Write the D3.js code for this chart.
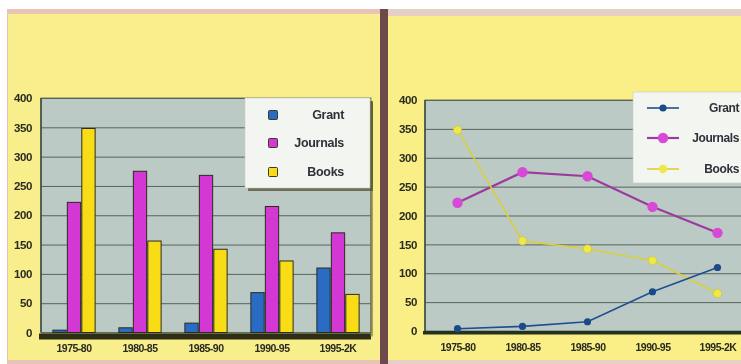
<!DOCTYPE html>
<html><head><meta charset="utf-8">
<script src="https://cdn.jsdelivr.net/npm/d3@7"></script>
<style>html,body{margin:0;padding:0;background:#fff;}svg{display:block;}</style>
</head><body>
<script>
const categories = ["1975-80","1980-85","1985-90","1990-95","1995-2K"];
const seriesNames = ["Grant","Journals","Books"];
const grant = [4, 8, 16, 68, 110];
const journals = [222, 275, 268, 215, 170];
const books = [348, 156, 142, 122, 65];
const yTicks = [0,50,100,150,200,250,300,350,400];

const seriesValues = [grant, journals, books];
const barColors = ["#2c6cc4", "#d437d4", "#f8dc12"];
const lineColors = ["#1f4f90", "#9c3a9e", "#d9cf3c"];
const markerColors = ["#1c4a88", "#d848d8", "#eee84a"];

const W = 741, H = 364;
const svg = d3.select("body").append("svg").attr("width", W).attr("height", H);
const defs = svg.append("defs");
defs.append("filter").attr("id","soft").append("feGaussianBlur").attr("stdDeviation",0.55);
const root = svg.append("g").attr("filter","url(#soft)");

root.append("rect").attr("width",W).attr("height",H).attr("fill","#ffffff");
// panels
root.append("rect").attr("x",7).attr("y",9).attr("width",376).attr("height",355).attr("fill","#e8c4b8");
root.append("rect").attr("x",8).attr("y",14).attr("width",372).attr("height",346).attr("fill","#f9ee8c");
root.append("rect").attr("x",380).attr("y",9).attr("width",8).attr("height",355).attr("fill","#6e4a48");
root.append("rect").attr("x",388).attr("y",9).attr("width",353).attr("height",355).attr("fill","#e6cfc4");
root.append("rect").attr("x",388).attr("y",16).attr("width",353).attr("height",344).attr("fill","#f9ef86");

const font = "'Liberation Sans', Arial, sans-serif";

function drawAxes(g, x0, x1, y, labelX) {
  g.append("rect").attr("x",x0).attr("y",y(400)).attr("width",x1-x0).attr("height",y(0)-y(400))
    .attr("fill","#bccac6").attr("stroke","#55605a").attr("stroke-width",0.8);
  const ax = d3.axisLeft(y).tickValues(yTicks).tickSize(-(x1-x0)).tickPadding(0);
  const ga = g.append("g").attr("transform",`translate(${x0},0)`).call(ax);
  ga.select(".domain").remove();
  ga.selectAll(".tick line").attr("stroke","#56625c").attr("stroke-width",1);
  ga.selectAll(".tick text").attr("x", labelX - x0).attr("font-family",font).attr("font-size",11.5)
    .attr("font-weight","bold").attr("fill","#2a2a20").attr("text-anchor","end")
    .style("letter-spacing","-0.4px");
  g.append("line").attr("x1",x0).attr("x2",x0).attr("y1",y(400)).attr("y2",y(0))
    .attr("stroke","#3a4a40").attr("stroke-width",1.5);
}

// ---------- Left: bar chart ----------
{
  const g = root.append("g");
  const x0 = 41, x1 = 371;
  const y = d3.scaleLinear().domain([0,400]).range([332.5, 98]);
  const x = d3.scaleBand().domain(categories).range([x0, x1]).paddingInner(0.36).paddingOuter(0.18);
  const xs = d3.scaleBand().domain(seriesNames).range([0, x.bandwidth()]).paddingInner(0.08);
  drawAxes(g, x0, x1, y, 32);
  // floor shadow
  g.append("rect").attr("x",x0-2).attr("y",y(0)+1).attr("width",x1-x0+2).attr("height",6).attr("fill","#2e2d12");
  g.append("rect").attr("x",x1-1).attr("y",y(400)+4).attr("width",3).attr("height",y(0)-y(400)).attr("fill","#6c6a3a").attr("opacity",0.6);
  seriesNames.forEach((s, si) => {
    g.selectAll(null).data(categories).enter().append("rect")
      .attr("x", c => x(c) + xs(s))
      .attr("y", (c, i) => y(seriesValues[si][i]))
      .attr("width", xs.bandwidth())
      .attr("height", (c, i) => y(0) - y(seriesValues[si][i]))
      .attr("fill", barColors[si]).attr("stroke","#2b2a20").attr("stroke-width",1);
  });
  const xa = d3.axisBottom(x).tickSize(0).tickPadding(0);
  const gx = g.append("g").attr("transform",`translate(0,${y(0)+16})`).call(xa);
  gx.select(".domain").remove();
  gx.selectAll("text").attr("font-family",font).attr("font-size",10.5).attr("font-weight","bold")
    .attr("fill","#2a2a20").attr("dy","0.32em").style("letter-spacing","-0.5px");
  // legend
  const lg = g.append("g");
  lg.append("rect").attr("x",248).attr("y",101).attr("width",125).attr("height",90).attr("fill","#4a4a2a").attr("opacity",0.7);
  lg.append("rect").attr("x",245).attr("y",98).attr("width",125).attr("height",90).attr("fill","#f3f5f1").attr("stroke","#c8cabc").attr("stroke-width",0.6);
  const ly = [115, 143, 172];
  seriesNames.forEach((s, si) => {
    lg.append("rect").attr("x",268.5).attr("y",ly[si]-4.5).attr("width",9).attr("height",9)
      .attr("fill", barColors[si]).attr("stroke","#3a3a2a").attr("stroke-width",1).attr("rx",1);
    lg.append("text").attr("x",344).attr("y",ly[si]).attr("dy","0.35em").attr("text-anchor","end")
      .attr("font-family",font).attr("font-size",12.5).attr("font-weight","bold").attr("fill","#2e3038")
      .style("letter-spacing","-0.3px").text(s);
  });
}

// ---------- Right: line chart ----------
{
  const g = root.append("g");
  const x0 = 425, x1 = 750;
  const y = d3.scaleLinear().domain([0,400]).range([331, 100]);
  const x = d3.scalePoint().domain(categories).range([x0, x1]).padding(0.5);
  drawAxes(g, x0, x1, y, 417);
  g.append("rect").attr("x",x0-2).attr("y",y(0)).attr("width",x1-x0+2).attr("height",3.5).attr("fill","#24301e");
  const line = d3.line().x((d,i) => x(categories[i])).y(d => y(d));
  const widths = [1.6, 2.2, 1.6];
  [1,2,0].forEach(si => {
    g.append("path").datum(seriesValues[si]).attr("d", line).attr("fill","none")
      .attr("stroke", lineColors[si]).attr("stroke-width", widths[si]);
  });
  const radii = [3.6, 5.2, 4.2];
  [1,2,0].forEach(si => {
    g.selectAll(null).data(seriesValues[si]).enter().append("circle")
      .attr("cx", (d,i) => x(categories[i])).attr("cy", d => y(d)).attr("r", radii[si])
      .attr("fill", markerColors[si]).attr("stroke", si===2 ? "#c8c030" : "none").attr("stroke-width",0.6);
  });
  const xa = d3.axisBottom(x).tickSize(0).tickPadding(0);
  const gx = g.append("g").attr("transform",`translate(0,${y(0)+17})`).call(xa);
  gx.select(".domain").remove();
  gx.selectAll("text").attr("font-family",font).attr("font-size",10.5).attr("font-weight","bold")
    .attr("fill","#2a2a20").attr("dy","0.32em").style("letter-spacing","-0.5px");
  // legend
  const lg = g.append("g");
  lg.append("rect").attr("x",633).attr("y",92).attr("width",130).attr("height",91).attr("fill","#f3f5f1").attr("stroke","#c8cabc").attr("stroke-width",0.6);
  const ly = [108, 138, 169];
  seriesNames.forEach((s, si) => {
    lg.append("line").attr("x1",647).attr("x2",679).attr("y1",ly[si]).attr("y2",ly[si])
      .attr("stroke", lineColors[si]).attr("stroke-width", widths[si]);
    lg.append("circle").attr("cx",663).attr("cy",ly[si]).attr("r", radii[si]).attr("fill", markerColors[si]);
    lg.append("text").attr("x",739).attr("y",ly[si]).attr("dy","0.35em").attr("text-anchor","end")
      .attr("font-family",font).attr("font-size",12).attr("font-weight","bold").attr("fill","#2e3038")
      .style("letter-spacing","-0.4px").text(s);
  });
}
</script>
</body></html>
